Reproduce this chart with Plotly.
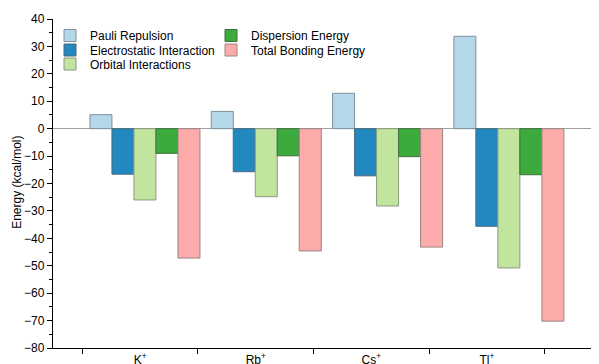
import plotly.graph_objects as go

categories = ["K<sup>+</sup>", "Rb<sup>+</sup>", "Cs<sup>+</sup>", "Tl<sup>+</sup>"]
pauli = [5.1, 6.3, 12.9, 33.7]
electrostatic = [-16.6, -15.7, -17.2, -35.6]
orbital = [-26.0, -24.8, -28.2, -50.8]
dispersion = [-9.0, -9.9, -10.2, -16.8]
total = [-47.2, -44.6, -43.2, -70.2]

series = [
    ("Pauli Repulsion", pauli, "#b4d7ea", "#7f909b"),
    ("Electrostatic Interaction", electrostatic, "#2288c0", "#4a6a7c"),
    ("Orbital Interactions", orbital, "#c1e49f", "#8c9a80"),
    ("Dispersion Energy", dispersion, "#3caa3c", "#3f6f3f"),
    ("Total Bonding Energy", total, "#fdaaaa", "#9a8686"),
]
# legend placement (figure px): column x, row y
legend_pos = [(42, 13), (42, 27.5), (42, 41.5), (203, 13), (203, 27.5)]

W, H = 591, 356  # page body has an 8px margin
font = "Liberation Sans, Arial, sans-serif"

pos = list(range(len(categories)))
fig = go.Figure()
legend_layout = {}
for i, (name, vals, col, lc) in enumerate(series):
    lname = "legend" if i == 0 else f"legend{i+1}"
    fig.add_trace(go.Bar(
        x=pos, y=vals, name=name, legend=lname,
        marker=dict(color=col, line=dict(color=lc, width=1)),
    ))
    lx, ly = legend_pos[i]
    legend_layout[lname] = dict(
        xref="container", yref="container", x=lx / W, y=1 - ly / H,
        xanchor="left", yanchor="top", bgcolor="rgba(0,0,0,0)",
        font=dict(size=12, family=font), borderwidth=0,
    )
fig.add_trace(go.Scatter(x=[None], y=[None], xaxis="x2", showlegend=False, hoverinfo="skip"))

fig.update_layout(
    width=W, height=H,
    margin=dict(l=45, r=0, t=11, b=16, autoexpand=False),
    paper_bgcolor="white", plot_bgcolor="white",
    barmode="group", bargap=0.093, bargroupgap=0,
    font=dict(family=font, size=12, color="black"),
    xaxis=dict(visible=False, range=[-0.758, 3.743]),
    xaxis2=dict(
        overlaying="x", anchor="y", side="bottom",
        range=[-0.754, 3.969],
        tickvals=pos, ticktext=categories, ticks="", ticklen=0,
        showline=True, linecolor="black", linewidth=1.3,
        showgrid=False, zeroline=False, automargin=False,
        tickfont=dict(size=12, family=font),
        minor=dict(tickvals=[-0.5, 0.5, 1.5, 2.5, 3.5], ticks="outside", ticklen=5,
                   tickcolor="black", tickwidth=1.3, showgrid=False),
    ),
    yaxis=dict(
        range=[-80, 40], dtick=10, tick0=0,
        showline=True, linecolor="black", linewidth=1.3,
        ticks="outside", ticklen=5, tickwidth=1.3, tickcolor="black",
        showgrid=False,
        zeroline=True, zerolinecolor="#a0a0a0", zerolinewidth=1,
        minor=dict(dtick=5, ticks="outside", ticklen=3, tickcolor="black", tickwidth=1, showgrid=False),
        tickfont=dict(size=12, family=font),
        automargin=False,
    ),
    annotations=[dict(
        text="Energy (kcal/mol)", textangle=-90, showarrow=False,
        xref="paper", yref="paper", x=(9 - 45) / 546, y=1 - (175 - 11) / 329.3,
        xanchor="center", yanchor="middle", font=dict(size=12, family=font),
    )],
    **legend_layout,
)

fig.write_html("out.html")
